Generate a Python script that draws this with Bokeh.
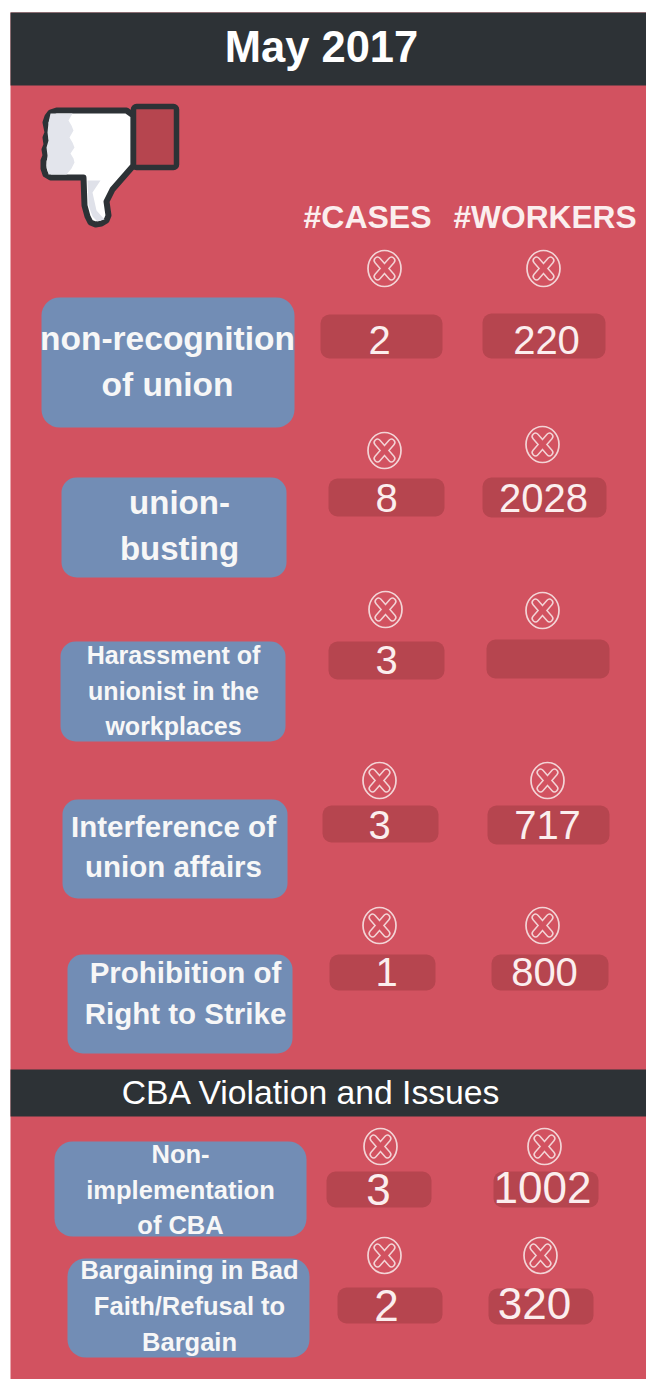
from bokeh.plotting import figure
from bokeh.models import Range1d
from bokeh.core.properties import value
from bokeh.embed import file_html
from bokeh.resources import INLINE

# ---- content ----
title = "May 2017"
subtitle = "CBA Violation and Issues"
column_heads = ["#CASES", "#WORKERS"]
categories = [
    ["non-recognition", "of union"],
    ["union-", "busting"],
    ["Harassment of", "unionist in the", "workplaces"],
    ["Interference of", "union affairs"],
    ["Prohibition of", "Right to Strike"],
    ["Non-", "implementation", "of CBA"],
    ["Bargaining in Bad", "Faith/Refusal to", "Bargain"],
]
cases = ["2", "8", "3", "3", "1", "3", "2"]
workers = ["220", "2028", "", "717", "800", "1002", "320"]

# ---- layout (page pixels) ----
BG, DARK, BLUE, BOX, CREAM = "#d25260", "#2d3236", "#728db5", "#b6454f", "#fbeeee"
SANS = "Liberation Sans"
label_box = [(41, 294, 297, 427, 18), (61, 286, 477, 577, 15), (60, 285, 641, 741, 15),
             (62, 287, 799, 898, 15), (67, 292, 954, 1053, 15), (54, 306, 1141, 1236, 18),
             (67, 309, 1258, 1357, 18)]
label_x = [167, 179, 173, 173, 185, 180, 189]
label_y = [[338, 384], [502, 548], [654, 690, 725], [826, 866], [972, 1013],
           [1153, 1189, 1224], [1269, 1305, 1341]]
label_size = [33.5, 33, 25, 29.5, 29.5, 25.5, 25.5]
case_box = [(320, 442, 314, 358), (328, 444, 478, 516), (328, 444, 641, 679), (322, 438, 805, 842),
            (329, 435, 954, 990), (326, 431, 1171, 1207), (337, 442, 1287, 1323)]
work_box = [(482, 605, 313, 358), (482, 606, 477, 517), (486, 609, 639, 678), (487, 609, 805, 844),
            (491, 608, 954, 990), (493, 598, 1171, 1207), (488, 593, 1288, 1324)]
case_xy = [(379, 339), (386, 497), (386, 659), (379, 824), (386, 971), (378, 1189), (386, 1305)]
work_xy = [(546, 339), (543, 497), None, (547, 824), (544, 971), (542, 1187), (534, 1303)]
icons = [(384, 268), (543, 268), (384, 450), (542, 444), (385, 609), (542, 610), (379, 780), (547, 780),
         (379, 925), (542, 925), (380, 1146), (544, 1146), (384, 1255), (540, 1255)]

p = figure(width=646, height=1379, x_range=Range1d(0, 646), y_range=Range1d(1379, 0),
           output_backend="svg", toolbar_location=None, min_border=0,
           background_fill_color="white", outline_line_color=None)
p.axis.visible = False
p.grid.visible = False


def text(x, y, s, size, font=SANS, style="normal", color="white"):
    p.text([x], [y], text=[s], text_font=value(font), text_font_size=f"{size}px",
           text_font_style=style, text_color=color, text_align="center", text_baseline="middle")


def box(l, r, t, b, color, radius=0):
    p.quad(left=[l], right=[r], top=[t], bottom=[b], fill_color=color, line_color=None, border_radius=radius)


# backgrounds and bands
box(10, 646, 12, 1379, BG)
box(10, 646, 12, 85, DARK)
box(10, 646, 1069, 1116, DARK)
text(321, 46, title, 43.5, style="bold")
text(311, 1091, subtitle, 33.7)

# column heads
text(367, 216, column_heads[0], 32, style="bold", color=CREAM)
text(544.5, 216, column_heads[1], 31.7, style="bold", color=CREAM)

# thumb icon
hand_x = [45, 47, 50, 56, 126, 133, 133, 112, 106, 108, 106, 101, 95, 90, 87, 84, 83, 50, 45, 43, 43, 45, 44,
          46, 45, 47, 46]
hand_y = [122, 116, 112, 110, 110, 115, 165, 189, 201, 215, 220, 223, 224, 222, 216, 205, 177, 177, 174, 168,
          160, 155, 149, 144, 137, 132, 127]
p.patch(hand_x, hand_y, fill_color="white", line_color=DARK, line_width=6, line_join="round")
p.patch([50, 72, 68, 71, 73, 69, 72, 74, 70, 73, 74, 71, 66, 48, 46, 47, 46, 48, 47, 48],
        [113, 113, 120, 125, 130, 137, 142, 147, 153, 158, 162, 168, 174, 174, 165, 155, 147, 140, 132, 122],
        fill_color="#e3e5ec", line_color=None)
p.patch([87, 100, 92, 96, 104, 97, 92, 88], [180, 180, 192, 210, 219, 221, 216, 205], fill_color="#dfe1e9", line_color=None)
p.quad(left=[133], right=[176], top=[106], bottom=[167], fill_color=BOX, line_color=DARK, line_width=5.5, border_radius=3)

# x icons
ix = [c[0] for c in icons]
iy = [c[1] for c in icons]
p.ellipse(ix, iy, width=33, height=36, fill_color=None, line_color="#f3d4d6", line_width=1.7)
for width, col in ((8, "#f3d4d6"), (5, BG)):
    p.segment([x - 7 for x in ix], [y - 8 for y in iy], [x + 7 for x in ix], [y + 8 for y in iy],
              line_color=col, line_width=width, line_cap="round")
    p.segment([x - 7 for x in ix], [y + 8 for y in iy], [x + 7 for x in ix], [y - 8 for y in iy],
              line_color=col, line_width=width, line_cap="round")

# category boxes and labels
for (l, r, t, b, rad), lines, x, ys, size in zip(label_box, categories, label_x, label_y, label_size):
    box(l, r, t, b, BLUE, rad)
    for s, y in zip(lines, ys):
        text(x, y, s, size, style="bold", color="#f7f7f7")

# value boxes and numbers
for i in range(len(cases)):
    l, r, t, b = case_box[i]
    box(l, r, t, b, BOX, 9)
    l, r, t, b = work_box[i]
    box(l, r, t, b, BOX, 9)
    sz = 40 if i < 5 else 44
    text(case_xy[i][0], case_xy[i][1], cases[i], sz, color=CREAM)
    if workers[i]:
        text(work_xy[i][0], work_xy[i][1], workers[i], sz, color=CREAM)

open("out.html", "w").write(file_html(p, INLINE))
